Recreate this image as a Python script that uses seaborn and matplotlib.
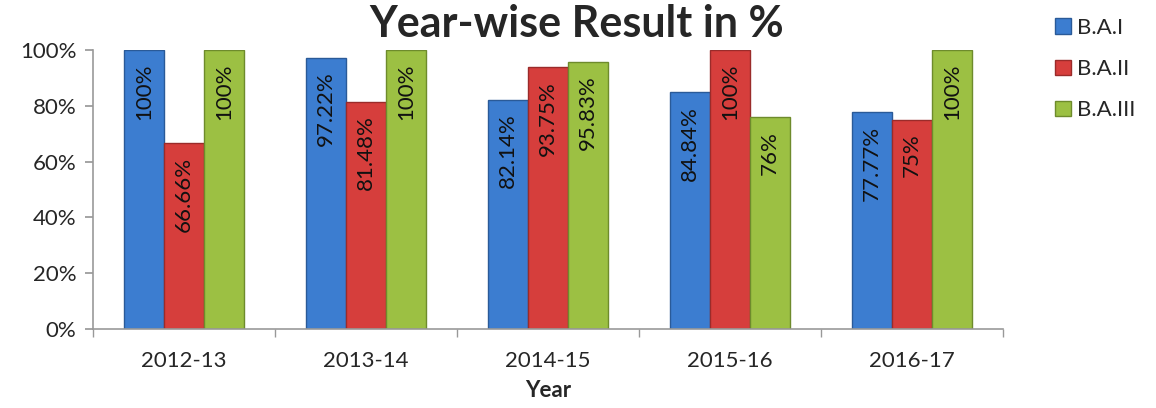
import matplotlib
matplotlib.use("Agg")
import matplotlib.pyplot as plt
import seaborn as sns
import pandas as pd
from matplotlib.patches import Patch
from matplotlib.ticker import FixedLocator

years = ["2012-13", "2013-14", "2014-15", "2015-16", "2016-17"]
series = ["B.A.I", "B.A.II", "B.A.III"]
ba1 = [100, 97.22, 82.14, 84.84, 77.77]
ba2 = [66.66, 81.48, 93.75, 100, 75]
ba3 = [100, 100, 95.83, 76, 100]
labels1 = ["100%", "97.22%", "82.14%", "84.84%", "77.77%"]
labels2 = ["66.66%", "81.48%", "93.75%", "100%", "75%"]
labels3 = ["100%", "100%", "95.83%", "76%", "100%"]
colors = ["#3C7DD0", "#D63E3C", "#9CC043"]
edges = ["#2A5A98", "#9A2B2A", "#6E8B2C"]

sns.set_theme(style="white")
plt.rcParams["font.family"] = ["Lato", "DejaVu Sans"]

rows = []
for s, vals in zip(series, [ba1, ba2, ba3]):
    for y, v in zip(years, vals):
        rows.append({"Year": y, "Series": s, "Value": v})
df = pd.DataFrame(rows)

fig = plt.figure(figsize=(11.56, 4.08), dpi=100)
ax = fig.add_axes([93/1156, 79/408, 910/1156, 279/408])
sns.barplot(data=df, x="Year", y="Value", hue="Series", palette=colors,
            width=0.66, ax=ax, legend=False, saturation=1)

all_labels = [labels1, labels2, labels3]
for ci, cont in enumerate(ax.containers):
    for patch, lab in zip(cont.patches, all_labels[ci]):
        patch.set_edgecolor(edges[ci])
        patch.set_linewidth(1.0)
        x = patch.get_x() + patch.get_width() / 2
        h = patch.get_height()
        ax.annotate(lab, (x, h), xytext=(0, -10), textcoords="offset points",
                    rotation=90, ha="center", va="top", fontsize=16, color="#111111")

ax.set_ylim(0, 100)
ax.set_xlim(-0.5, 4.5)
ax.set_yticks([0, 20, 40, 60, 80, 100])
ax.set_yticklabels(["0%", "20%", "40%", "60%", "80%", "100%"], fontsize=16)
ax.tick_params(axis="y", which="major", length=6, color="#999999", direction="out", left=True, pad=6)
ax.tick_params(axis="x", which="major", length=0, labelsize=16, pad=16)
ax.xaxis.set_minor_locator(FixedLocator([-0.5, 0.5, 1.5, 2.5, 3.5, 4.5]))
ax.tick_params(axis="x", which="minor", length=6, color="#999999", direction="out", bottom=True)
for sp in ["top", "right"]:
    ax.spines[sp].set_visible(False)
for sp in ["left", "bottom"]:
    ax.spines[sp].set_color("#999999")
    ax.spines[sp].set_linewidth(1.2)
ax.set_xlabel("Year", fontsize=16, fontweight="bold", labelpad=6)
ax.set_ylabel("")

fig.text(577/1156, 1 - 24/408, "Year-wise Result in %", ha="center", va="center",
         fontsize=31, fontweight="bold")

handles = [Patch(facecolor=c, edgecolor=e) for c, e in zip(colors, edges)]
fig.legend(handles, series, loc="upper left", bbox_to_anchor=(1035/1156, 1.0 + 2/408),
           frameon=False, fontsize=16, handlelength=0.7, handleheight=0.7,
           handletextpad=0.3, labelspacing=0.95)

fig.savefig("out.png", dpi=100)
